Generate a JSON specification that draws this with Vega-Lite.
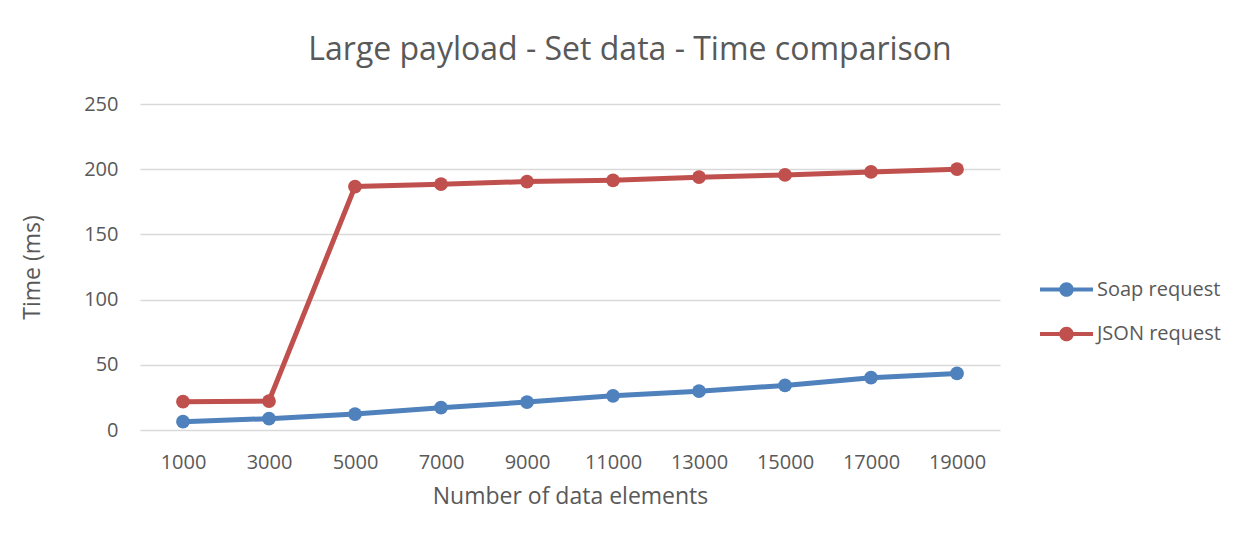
{
  "$schema": "https://vega.github.io/schema/vega-lite/v6.json",
  "width": 860,
  "height": 326,
  "autosize": "none",
  "padding": {"left": 140, "top": 104, "right": 253, "bottom": 116},
  "background": "white",
  "title": {
    "text": "Large payload - Set data - Time comparison",
    "fontSize": 32,
    "font": "Open Sans",
    "fontWeight": "normal",
    "color": "#595959",
    "anchor": "middle",
    "frame": "group",
    "dx": 60,
    "offset": 27
  },
  "data": {
    "values": [
      {"n": "1000", "series": "Soap request", "time": 6.4},
      {"n": "3000", "series": "Soap request", "time": 8.7},
      {"n": "5000", "series": "Soap request", "time": 12.2},
      {"n": "7000", "series": "Soap request", "time": 17.1},
      {"n": "9000", "series": "Soap request", "time": 21.4},
      {"n": "11000", "series": "Soap request", "time": 26.2},
      {"n": "13000", "series": "Soap request", "time": 29.8},
      {"n": "15000", "series": "Soap request", "time": 34.2},
      {"n": "17000", "series": "Soap request", "time": 40.1},
      {"n": "19000", "series": "Soap request", "time": 43.4},
      {"n": "1000", "series": "JSON request", "time": 21.7},
      {"n": "3000", "series": "JSON request", "time": 22.2},
      {"n": "5000", "series": "JSON request", "time": 186.7},
      {"n": "7000", "series": "JSON request", "time": 188.5},
      {"n": "9000", "series": "JSON request", "time": 190.5},
      {"n": "11000", "series": "JSON request", "time": 191.5},
      {"n": "13000", "series": "JSON request", "time": 193.9},
      {"n": "15000", "series": "JSON request", "time": 195.6},
      {"n": "17000", "series": "JSON request", "time": 197.9},
      {"n": "19000", "series": "JSON request", "time": 200}
    ]
  },
  "mark": {"type": "line", "strokeWidth": 5, "point": {"filled": true, "size": 190, "opacity": 1}},
  "encoding": {
    "x": {
      "field": "n",
      "type": "ordinal",
      "sort": null,
      "scale": {"type": "point", "padding": 0.5},
      "axis": {
        "title": "Number of data elements",
        "labelAngle": 0,
        "domain": false,
        "ticks": false,
        "labelPadding": 22,
        "titlePadding": 13,
        "labelFont": "Open Sans",
        "labelFontSize": 20,
        "labelColor": "#595959",
        "titleFont": "Open Sans",
        "titleFontSize": 23,
        "titleFontWeight": "normal",
        "titleColor": "#595959"
      }
    },
    "y": {
      "field": "time",
      "type": "quantitative",
      "scale": {"domain": [0, 250]},
      "axis": {
        "title": "Time (ms)",
        "values": [0, 50, 100, 150, 200, 250],
        "domain": false,
        "ticks": false,
        "labelPadding": 22,
        "titlePadding": 39,
        "gridColor": "#D9D9D9",
        "gridWidth": 1.3,
        "labelFont": "Open Sans",
        "labelFontSize": 20,
        "labelColor": "#595959",
        "titleFont": "Open Sans",
        "titleFontSize": 23,
        "titleFontWeight": "normal",
        "titleColor": "#595959"
      }
    },
    "color": {
      "field": "series",
      "type": "nominal",
      "sort": ["Soap request", "JSON request"],
      "scale": {"domain": ["Soap request", "JSON request"], "range": ["#4F81BD", "#C0504D"]},
      "legend": {
        "title": null,
        "orient": "none",
        "legendX": 913,
        "legendY": 172,
        "padding": 0,
        "symbolType": "M-2,-0.16 H2 V0.16 H-2 Z M0.55,0 A0.55,0.55 0 1,1 -0.55,0 A0.55,0.55 0 1,1 0.55,0 Z",
        "symbolSize": 702,
        "symbolStrokeWidth": 0,
        "labelOffset": 17,
        "rowPadding": 20.5,
        "labelFont": "Open Sans",
        "labelFontSize": 20,
        "labelColor": "#595959"
      }
    }
  },
  "config": {"view": {"stroke": null}}
}
